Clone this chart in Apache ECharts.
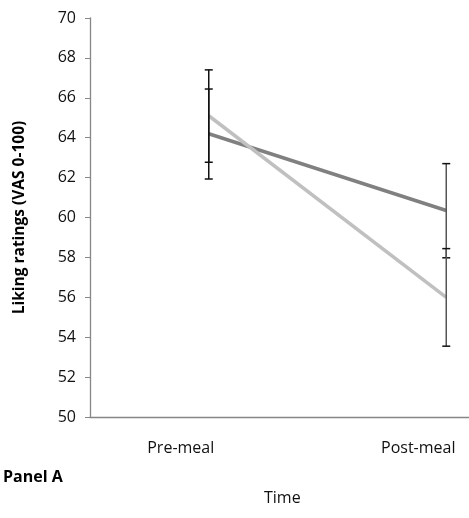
<!DOCTYPE html>
<html>
<head>
<meta charset="utf-8">
<script src="https://cdn.jsdelivr.net/npm/echarts@6/dist/echarts.min.js"></script>
<style>
  html, body { margin: 0; padding: 0; background: #fff; }
  #chart { width: 469px; height: 518px; }
</style>
</head>
<body>
<div id="chart"></div>
<script>
// data
const categories = ['Pre-meal', 'Post-meal'];
const darkMean = [64.2, 60.35];
const lightMean = [65.1, 56.0];
const darkLow = [61.93, 57.98];
const darkHigh = [66.44, 62.7];
const lightLow = [62.77, 53.55];
const lightHigh = [67.4, 58.44];
const yTicks = [50, 52, 54, 56, 58, 60, 62, 64, 66, 68, 70];

const chart = echarts.init(document.getElementById('chart'));

// error bars: [category index, low, high]
const errData = [];
for (let i = 0; i < categories.length; i++) {
    errData.push([i, darkLow[i], darkHigh[i]]);
    errData.push([i, lightLow[i], lightHigh[i]]);
}

function renderErr(params, api) {
    const x = api.value(0);
    const lo = api.coord([x, api.value(1)]);
    const hi = api.coord([x, api.value(2)]);
    const w = 4;
    const col = x === 0 ? '#111' : '#555';
    return {
        type: 'group',
        children: [
            { type: 'line', shape: { x1: hi[0], y1: hi[1], x2: lo[0], y2: lo[1] }, style: { stroke: col, lineWidth: 1.5 } },
            { type: 'line', shape: { x1: hi[0] - w, y1: hi[1], x2: hi[0] + w, y2: hi[1] }, style: { stroke: '#111', lineWidth: 1.5 } },
            { type: 'line', shape: { x1: lo[0] - w, y1: lo[1], x2: lo[0] + w, y2: lo[1] }, style: { stroke: '#111', lineWidth: 1.5 } }
        ]
    };
}

const option = {
    backgroundColor: '#fff',
    animation: false,
    textStyle: { fontFamily: 'Open Sans' },
    grid: {
        left: 90,
        top: 18,
        right: -96,
        bottom: 101,
        outerBoundsMode: 'none'
    },
    xAxis: {
        type: 'category',
        data: categories,
        boundaryGap: true,
        axisLine: { lineStyle: { color: '#868686', width: 1.3 } },
        axisTick: { show: false },
        axisLabel: {
            color: '#111',
            fontSize: 16,
            margin: 23,
            padding: [0, 56, 0, 0]
        }
    },
    yAxis: {
        type: 'value',
        min: yTicks[0],
        max: yTicks[yTicks.length - 1],
        interval: 2,
        name: 'Liking ratings (VAS 0-100)',
        nameLocation: 'middle',
        nameRotate: 90,
        nameGap: 62,
        nameTextStyle: { fontSize: 15.5, fontWeight: 'bold', color: '#000' },
        splitLine: { show: false },
        axisLine: { show: true, lineStyle: { color: '#868686', width: 1.3 } },
        axisTick: { show: true, length: 5, lineStyle: { color: '#868686' } },
        axisLabel: { color: '#111', fontSize: 16, margin: 14 }
    },
    graphic: [
        { type: 'text', left: 3, top: 469, style: { text: 'Panel A', font: 'bold 16px "Open Sans"', fill: '#000' } },
        { type: 'text', left: 264, top: 490, style: { text: 'Time', font: '16px "Open Sans"', fill: '#111' } }
    ],
    series: [
        {
            name: 'dark',
            type: 'line',
            data: darkMean,
            symbol: 'none',
            lineStyle: { color: '#808080', width: 3.5 },
            z: 2
        },
        {
            name: 'light',
            type: 'line',
            data: lightMean,
            symbol: 'none',
            lineStyle: { color: '#c0c0c0', width: 3.5 },
            z: 3
        },
        {
            name: 'err',
            type: 'custom',
            data: errData,
            renderItem: renderErr,
            z: 4
        }
    ]
};
chart.setOption(option);
</script>
</body>
</html>
